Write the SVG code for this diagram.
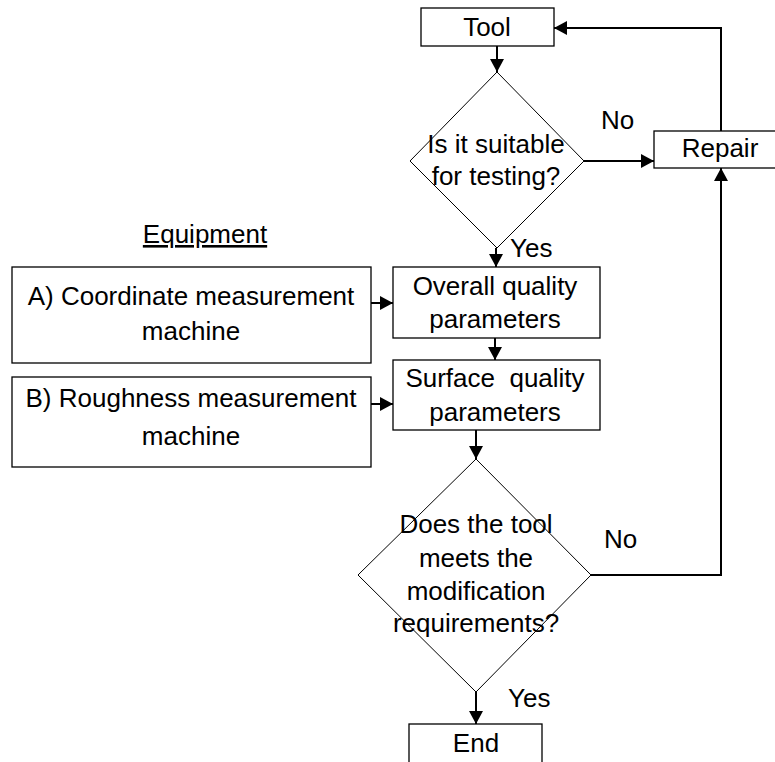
<svg xmlns="http://www.w3.org/2000/svg" width="775" height="762" viewBox="0 0 775 762">
<style>
.box{fill:#fff;stroke:#000;stroke-width:1.3}
.dia{fill:#fff;stroke:#000;stroke-width:1}
.con{fill:none;stroke:#000;stroke-width:2}
.t{font-family:"Liberation Sans",Arial,sans-serif;font-size:26px;fill:#000;text-anchor:middle}
.l{font-family:"Liberation Sans",Arial,sans-serif;font-size:26px;fill:#000}
</style>
<defs>
<marker id="ah" markerUnits="userSpaceOnUse" markerWidth="16" markerHeight="16" refX="13" refY="7" orient="auto">
<path d="M0,0 L13,7 L0,14 Z" fill="#000"/>
</marker>
</defs>
<rect width="775" height="762" fill="#fff"/>
<g id="connectors">
<line class="con" x1="497" y1="46" x2="497" y2="72" marker-end="url(#ah)"/>
<line class="con" x1="496" y1="248" x2="496" y2="267" marker-end="url(#ah)"/>
<line class="con" x1="584" y1="161" x2="654" y2="161" marker-end="url(#ah)"/>
<path class="con" d="M721,131 V28 H554" marker-end="url(#ah)"/>
<path class="con" d="M591,575 H721 V168" marker-end="url(#ah)"/>
<line class="con" x1="371" y1="303" x2="393" y2="303" marker-end="url(#ah)"/>
<line class="con" x1="371" y1="404" x2="393" y2="404" marker-end="url(#ah)"/>
<line class="con" x1="495" y1="338" x2="495" y2="360" marker-end="url(#ah)"/>
<line class="con" x1="476" y1="430" x2="476" y2="459" marker-end="url(#ah)"/>
<line class="con" x1="476" y1="692" x2="476" y2="724" marker-end="url(#ah)"/>
</g>
<g id="tool">
<rect class="box" x="421" y="8" width="133" height="38"/>
<text class="t" x="487" y="36">Tool</text>
</g>
<g id="suitable">
<polygon class="dia" points="497,72 584,161 497,248 410,161"/>
<text class="t" x="496" y="153">Is it suitable</text>
<text class="t" x="496" y="185">for testing?</text>
</g>
<g id="repair">
<rect class="box" x="654" y="131" width="140" height="37"/>
<text class="t" x="720" y="157">Repair</text>
</g>
<g id="labels">
<text class="l" x="601" y="129">No</text>
<text class="l" x="510" y="257">Yes</text>
<text class="l" x="604" y="548">No</text>
<text class="l" x="508" y="707">Yes</text>
</g>
<g id="equipment">
<text class="t" x="205" y="243" text-decoration="underline">Equipment</text>
</g>
<g id="cmm">
<rect class="box" x="12" y="267" width="359" height="96"/>
<text class="t" x="191" y="305">A) Coordinate measurement</text>
<text class="t" x="191" y="340">machine</text>
</g>
<g id="rough">
<rect class="box" x="12" y="377" width="359" height="90"/>
<text class="t" x="191" y="407">B) Roughness measurement</text>
<text class="t" x="191" y="445">machine</text>
</g>
<g id="overall">
<rect class="box" x="393" y="267" width="207" height="71"/>
<text class="t" x="495" y="295">Overall quality</text>
<text class="t" x="495" y="328">parameters</text>
</g>
<g id="surface">
<rect class="box" x="393" y="360" width="207" height="70"/>
<text class="t" x="495" y="387" xml:space="preserve">Surface  quality</text>
<text class="t" x="495" y="421">parameters</text>
</g>
<g id="meets">
<polygon class="dia" points="476,459 591,575 476,692 358,575"/>
<text class="t" x="476" y="533">Does the tool</text>
<text class="t" x="476" y="567">meets the</text>
<text class="t" x="476" y="600">modification</text>
<text class="t" x="476" y="632">requirements?</text>
</g>
<g id="end">
<rect class="box" x="409" y="724" width="133" height="50"/>
<text class="t" x="476" y="752">End</text>
</g>
</svg>
